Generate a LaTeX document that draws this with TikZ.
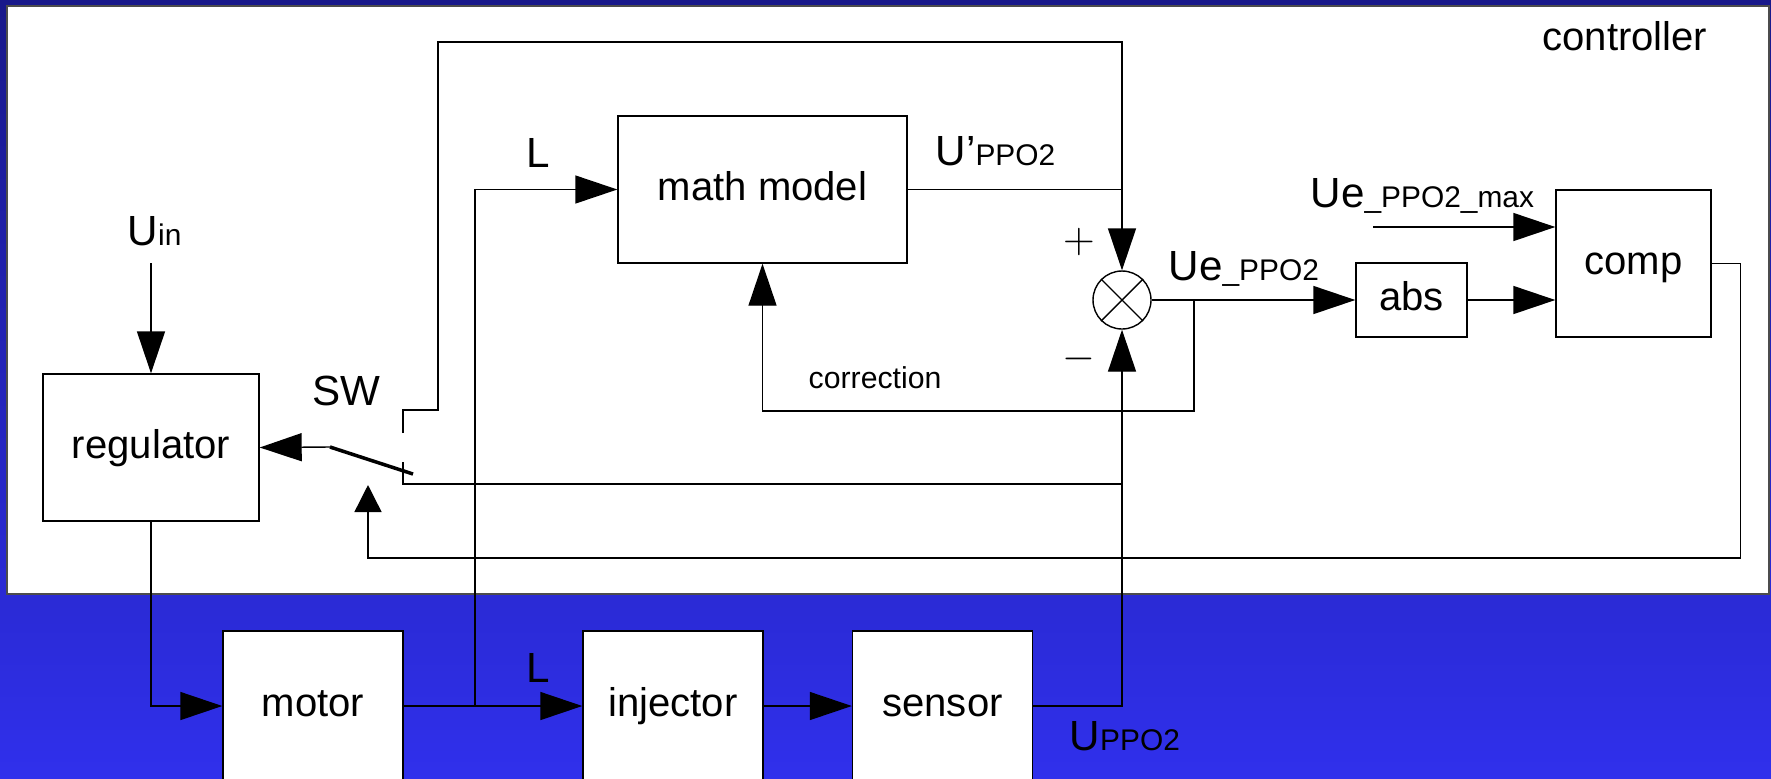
\documentclass[tikz,border=0pt]{standalone}
\usepackage{fontspec}
\setmainfont{Liberation Sans}
\usetikzlibrary{arrows.meta}
\newcommand{\subtxt}[1]{{\fontsize{8.5}{10}\selectfont #1}}
\definecolor{navytop}{RGB}{24,24,138}
\definecolor{bluebot}{RGB}{48,48,236}

\begin{document}
\begin{tikzpicture}[x=0.1mm, y=-0.1mm, line width=0.4pt,
    blk/.style={draw, fill=white, inner sep=0pt, text height=0.8em, text depth=0.18em,
      font=\fontsize{11.4}{13}\selectfont},
    lbl/.style={inner sep=0pt, anchor=base west, font=\fontsize{12}{14}\selectfont},
    arr/.style={-{Triangle[length=4.2mm, width=2.8mm]}},
    arrs/.style={-{Triangle[length=2.7mm, width=2.7mm]}}]
    \useasboundingbox (0,0) rectangle (1771,778);
    \shade[top color=navytop, bottom color=bluebot] (0,0) rectangle (1771,778);
    \draw[draw=black!70, fill=white, line width=0.6pt] (7,6) rectangle (1769,594);
    \node[lbl, anchor=base east, font=\fontsize{11.4}{13}\selectfont] (ctrl) at (1708,50) {controller};

    % blocks of the controller
    \node[blk, minimum width=21.6mm, minimum height=14.7mm] (reg) at (151,447.5) {regulator};
    \node[blk, minimum width=28.9mm, minimum height=14.7mm] (math) at (762.5,189.5) {math model};
    \node[blk, minimum width=11.1mm, minimum height=7.4mm] (abs) at (1411.5,300) {abs};
    \node[blk, minimum width=15.5mm, minimum height=14.7mm] (comp) at (1633.5,263.5) {comp};
    \node[circle, draw, fill=white, minimum size=5.8mm, inner sep=0pt] (sum) at (1122,300) {};
    \draw (sum.north west) -- (sum.south east) (sum.north east) -- (sum.south west);
    \node[inner sep=0pt, font=\fontsize{12}{12}\selectfont] (plus) at (1079,241.5) {$+$};
    \node[inner sep=0pt, font=\fontsize{12}{12}\selectfont] (minus) at (1079,359) {$-$};

    % blocks of the plant
    \node[blk, minimum width=18mm, minimum height=15mm] (motor) at (313,706) {motor};
    \node[blk, minimum width=18mm, minimum height=15mm] (inj) at (673,706) {injector};
    \node[blk, minimum width=18mm, minimum height=15mm] (sens) at (942.5,706) {sensor};

    % input of the regulator
    \coordinate (uin) at (151,263);
    \draw[arr] (uin) -- (reg.north);
    \node[lbl] (uinlbl) at (127,245) {U\subtxt{in}};

    % switch
    \coordinate (pivot) at (330,447);
    \coordinate (blade) at (413,474);
    \coordinate (sw1) at (403,433);
    \coordinate (sw2) at (403,462);
    \coordinate (swin) at (368,485);
    \coordinate (j2) at (1122,484);
    \draw[line width=1pt] (pivot) -- (blade);
    \draw[arr] (pivot) -- (reg.east);
    \node[lbl] (swlbl) at (312,405) {SW};
    \draw[arr] (sw1) -- ++(0,-23) -| (438,42) -| (sum.north);
    \draw (sw2) |- (j2);
    \draw[arrs] (comp.east) -- ++(29,0) |- (368,558) -- (swin);

    % math model and error
    \coordinate (lsplit) at (475,706);
    \draw[arr] (lsplit) |- (math.west);
    \node[lbl] (lup) at (526,167) {L};
    \draw (math.east) -- (math.east -| sum.north);
    \node[lbl] (umodel) at (935,165) {U’\subtxt{PPO2}};
    \draw[arr] (sum.east) -- (abs.west);
    \node[lbl] (uerr) at (1168,280) {Ue\subtxt{\_PPO2}};
    \coordinate (corr) at (1194,300);
    \draw[arr] (corr) -- (1194,411) -| (math.south);
    \node[lbl, font=\fontsize{8.6}{10}\selectfont] (corrlbl) at (808,388) {correction};
    \draw[arr] (abs.east) -- (abs.east -| comp.west);
    \coordinate (umax) at (1373,227);
    \draw[arr] (umax) -- (umax -| comp.west);
    \node[lbl] (umaxlbl) at (1310,207) {Ue\subtxt{\_PPO2\_max}};

    % plant chain
    \draw[arr] (reg.south) |- (motor.west);
    \draw[arr] (motor.east) -- (inj.west);
    \node[lbl] (ldown) at (526,682) {L};
    \draw[arr] (inj.east) -- (sens.west);
    \draw[arr] (sens.east) -| (sum.south);
    \node[lbl] (usens) at (1069,750) {U\subtxt{PPO2}};
\end{tikzpicture}
\end{document}
